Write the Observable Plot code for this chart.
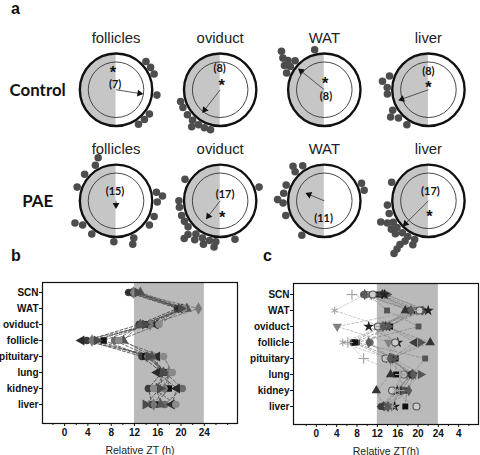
<!DOCTYPE html>
<html><head><meta charset="utf-8">
<script src="https://cdn.jsdelivr.net/npm/d3@7"></script>
<script src="https://cdn.jsdelivr.net/npm/@observablehq/plot@0.6"></script>
<style>
html,body{margin:0;padding:0;background:#fff;overflow:hidden;}
#fig{position:relative;width:480px;height:455px;overflow:hidden;background:#fff;}
.abs{position:absolute;left:0;top:0;}
.lbl{position:absolute;font-family:"Liberation Sans",Arial,sans-serif;font-weight:bold;color:#111;line-height:normal;font-size:16px;}
svg{overflow:visible;}
</style></head><body>
<div id="fig">
  <div id="pa" class="abs"></div>
  <div id="pb" class="abs" style="top:270px"></div>
  <div id="pc" class="abs" style="left:240px;top:270px"></div>
  <div class="lbl" style="left:11px;top:0px">a</div>
  <div class="lbl" style="left:11px;top:247px">b</div>
  <div class="lbl" style="left:263px;top:247px">c</div>
</div>
<script>
// ---------------- DATA: panel a (circular phase plots, ZT hours) ----------------
const tissuesA = ["follicles", "oviduct", "WAT", "liver"];
const groupsA = ["Control", "PAE"];

const ctrlFollicles = [3.1, 3.8, 4.5, 6.5, 8.4, 9.1, 9.8];
const ctrlOviduct   = [12.9, 13.5, 14.1, 14.5, 14.8, 15.5, 16.3, 16.9];
const ctrlWAT       = [19.6, 20.1, 20.3, 20.5, 20.6, 20.8, 21.0, 23.1];
const ctrlLiver     = [14.1, 15.1, 15.6, 16.0, 17.6, 18.2, 18.7, 19.3];

const paeFollicles = [5.2, 5.6, 6.1, 7.5, 8.4, 10.3, 10.6, 12.2, 14.4, 15.6, 16.1, 19.3, 20.7, 22.0, 22.5];
const paeOviduct   = [4.7, 10.6, 12.4, 12.5, 13.0, 13.4, 13.7, 14.2, 14.4, 14.9, 14.9, 15.4, 16.0, 16.6, 17.4, 18.0, 20.1];
const paeWAT       = [4.3, 5.0, 14.2, 16.6, 17.8, 18.1, 18.7, 19.5, 21.0, 21.2, 21.9];
const paeLiver     = [13.3, 13.3, 14.0, 14.0, 14.2, 14.2, 14.2, 14.6, 15.0, 15.3, 15.5, 15.9, 16.1, 16.4, 16.8, 17.6, 19.8];

const ctrlN = [7, 8, 8, 8];
const paeN  = [15, 17, 11, 17];
const ctrlMeanPhase = [6.6, 14.5, 20.6, 16.7];
const paeMeanPhase  = [12.0, 14.5, 19.5, 15.0];
const ctrlVectorLength = [0.71, 0.76, 0.88, 0.83];
const paeVectorLength  = [0.17, 0.59, 0.51, 0.95];
const ctrlSignificant = [true, true, true, true];
const paeSignificant  = [false, true, false, true];

// ---------------- DATA: panels b and c (relative ZT of peak per tissue, one array per animal) ----------------
const tissuesBC = ["SCN", "WAT", "oviduct", "follicle", "pituitary", "lung", "kidney", "liver"];
const bTicks = [0, 4, 8, 12, 16, 20, 24];
const cTicks = [0, 4, 8, 12, 16, 20, 24, 28];
const darkPhase = [12, 24];

const b1 = [11.0, 19.4, 12.8, 3.8, 13.3, 16.7, 14.4, 15.0];
const b2 = [11.5, 20.2, 13.4, 8.6, 14.7, 17.3, 20.2, 17.2];
const b3 = [12.0, 20.6, 14.2, 6.7, 13.9, 17.6, 17.9, 15.6];
const b4 = [11.3, 19.8, 15.6, 2.9, 15.9, 15.9, 19.3, 18.4];
const b5 = [11.8, 23.0, 14.7, 4.7, 14.2, 17.9, 17.2, 15.3];
const b6 = [13.0, 21.0, 13.0, 10.1, 15.0, 17.0, 15.8, 16.5];
const b7 = [12.2, 20.4, 16.2, 9.3, 17.0, 18.5, 15.3, 19.1];
const b8 = [12.5, 20.0, 13.8, 5.5, 14.4, 16.9, 16.4, 13.9];

const c1  = [9.3, 18.3, 12.7, 7.2, 14.2, 18.6, 15.6, 12.7];
const c2  = [9.8, 18.9, 13.3, 10.6, 14.9, 19.1, 16.6, 13.6];
const c3  = [10.2, 13.9, 20.1, 8.0, 21.4, 18.8, 16.8, 14.5];
const c4  = [12.3, 19.2, 14.5, 7.6, 15.6, 15.7, 17.8, 17.5];
const c5  = [13.0, 17.5, 13.6, 22.4, 14.6, 14.6, 11.8, 13.2];
const c6  = [10.8, 19.8, 4.1, 14.2, 15.0, 17.9, 15.1, 14.0];
const c7  = [12.6, 20.5, 14.0, 19.3, 14.8, 18.3, 16.2, 12.9];
const c8  = [13.9, 21.2, 14.2, 20.5, 15.3, 20.5, 17.2, 13.8];
const c9  = [13.4, 22.0, 10.3, 16.0, 14.4, 18.9, 15.9, 15.4];
const c10 = [11.1, 20.3, 12.1, 15.5, 13.6, 17.2, 14.9, 19.7];
const c11 = [9.6, 3.6, 12.9, 5.2, 14.0, 17.0, 15.6, 15.0];
const c12 = [7.0, 19.0, 12.8, 6.2, 9.3, 16.5, 16.3, 14.3];
const c13 = [9.5, 18.6, 13.1, 10.3, 14.5, 19.0, 18.2, 14.1];

// ---------------- STYLES / LAYOUT ----------------
const bSeries = [b1, b2, b3, b4, b5, b6, b7, b8];
const bStyles = [
  {symbol: "circle", fill: "#3c3c3c", rotate: 0},
  {symbol: "circle", fill: "#6a6a6a", rotate: 0},
  {symbol: "square", fill: "#111111", rotate: 0},
  {symbol: "triangle", fill: "#2a2a2a", rotate: -90},
  {symbol: "diamond", fill: "#777777", rotate: 0},
  {symbol: "triangle", fill: "#555555", rotate: 0},
  {symbol: "circle", fill: "#8a8a8a", rotate: 0},
  {symbol: "triangle", fill: "#4a4a4a", rotate: 90}
];
const cSeries = [c1, c2, c3, c4, c5, c6, c7, c8, c9, c10, c11, c12, c13];
const cStyles = [
  {symbol: "circle", fill: "#4a4a4a", rotate: 0},
  {symbol: "circle", fill: "#6a6a6a", rotate: 0},
  {symbol: "square", fill: "#555555", rotate: 0},
  {symbol: "square", fill: "#111111", rotate: 0},
  {symbol: "triangle", fill: "#333333", rotate: 0},
  {symbol: "triangle", fill: "#808080", rotate: 180},
  {symbol: "triangle", fill: "#3a3a3a", rotate: -90},
  {symbol: "triangle", fill: "#555555", rotate: 90},
  {symbol: "star", fill: "#222222", rotate: 0},
  {symbol: "circle", fill: "#cccccc", stroke: "#555555", rotate: 0},
  {symbol: "asterisk", fill: "none", stroke: "#a0a0a0", rotate: 0},
  {symbol: "plus", fill: "none", stroke: "#a0a0a0", rotate: 0},
  {symbol: "diamond", fill: "#5a5a5a", rotate: 0}
];

const R_OUT = 36.5, R_IN = 28, DOT_R = 3.8;
const FACET_W = 105, FACET_H = 112.5;
const TITLE_Y = 52;
const nLabelOffset = {
  Control: [[-1, 5], [-0.5, 21.5], [1.7, -6.5], [0, 18]],
  PAE: [[-1, 9], [5, 6], [-0.7, -17.7], [2, 9]]
};
const starOffset = {
  Control: [[-3, 21], [1.5, 8.5], [1, 10], [0, 6]],
  PAE: [null, [2, -13], null, [1, -12]]
};

// ---------------- PANEL a ----------------
const phasesA = {Control: [ctrlFollicles, ctrlOviduct, ctrlWAT, ctrlLiver], PAE: [paeFollicles, paeOviduct, paeWAT, paeLiver]};
const nA = {Control: ctrlN, PAE: paeN};
const meanA = {Control: ctrlMeanPhase, PAE: paeMeanPhase};
const lenA = {Control: ctrlVectorLength, PAE: paeVectorLength};
const sigA = {Control: ctrlSignificant, PAE: paeSignificant};

function toXY(phase, rad) {
  const t = phase / 24 * 2 * Math.PI;
  return [rad * Math.sin(t), rad * Math.cos(t)];
}
const ringRad = l => R_OUT + 1.3 + DOT_R + l * DOT_R * 1.45;

const dotRows = [], vecRows = [], nRows = [], starRows = [], titleRows = [];
groupsA.forEach(g => tissuesA.forEach((t, i) => {
  const placed = [];
  phasesA[g][i].slice().sort((a, b) => a - b).forEach(p => {
    let level = 0;
    const clash = l => placed.some(q => {
      if (q.level !== l) return false;
      const [x1, y1] = toXY(q.phase, ringRad(l));
      const [x2, y2] = toXY(p, ringRad(l));
      return Math.hypot(x1 - x2, y1 - y2) < DOT_R * 1.55;
    });
    while (clash(level)) level++;
    placed.push({phase: p, level});
    const [x, y] = toXY(p, ringRad(level));
    dotRows.push({group: g, tissue: t, x, y});
  });
  const ph = meanA[g][i], L = lenA[g][i] * R_OUT;
  const [x2, y2] = toXY(ph, L - 3);
  const [hx, hy] = toXY(ph, L - 2);
  vecRows.push({group: g, tissue: t, x1: 0, y1: 0, x2, y2, hx, hy, rot: ph / 24 * 360});
  const no = nLabelOffset[g][i];
  nRows.push({group: g, tissue: t, x: no[0], y: no[1], label: `(${nA[g][i]})`});
  if (sigA[g][i]) {
    const so = starOffset[g][i];
    starRows.push({group: g, tissue: t, x: so[0], y: so[1]});
  }
  titleRows.push({group: g, tissue: t});
}));

const halfDisk = d3.range(-R_OUT, R_OUT + 0.001, R_OUT / 80).map(y => ({y, x1: -Math.sqrt(Math.max(0, R_OUT * R_OUT - y * y))}));
const origin = [{x: 0, y: 0}];

const plotA = Plot.plot({
  width: 484, height: 259,
  marginLeft: 64, marginRight: 0, marginTop: 33.75, marginBottom: 0,
  style: {background: "transparent", overflow: "visible"},
  fx: {domain: tissuesA, padding: 0, axis: null},
  fy: {domain: groupsA, padding: 0, axis: null},
  x: {domain: [-FACET_W / 2, FACET_W / 2], axis: null},
  y: {domain: [-FACET_H / 2, FACET_H / 2], axis: null},
  marks: [
    Plot.areaX(halfDisk, {y: "y", x1: "x1", x2: 0, fill: "#c6c6c6", curve: "linear"}),
    Plot.dot(origin, {x: "x", y: "y", r: R_IN, stroke: "#333", strokeWidth: 0.9, fill: "none"}),
    Plot.dot(origin, {x: "x", y: "y", r: R_OUT, stroke: "#111", strokeWidth: 2.4, fill: "none"}),
    Plot.dot(dotRows, {fx: "tissue", fy: "group", x: "x", y: "y", r: DOT_R, fill: "#4d4d4d"}),
    Plot.link(vecRows, {fx: "tissue", fy: "group", x1: "x1", y1: "y1", x2: "x2", y2: "y2", stroke: "#444", strokeWidth: 0.9}),
    Plot.dot(vecRows, {fx: "tissue", fy: "group", x: "hx", y: "hy", symbol: "triangle", r: 2.6, fill: "#111", rotate: "rot"}),
    Plot.text(nRows, {fx: "tissue", fy: "group", x: "x", y: "y", text: "label", fontFamily: "Lato, 'Open Sans', sans-serif", fontWeight: "bold", fontSize: 11, fill: "#111"}),
    Plot.text(starRows, {fx: "tissue", fy: "group", x: "x", y: "y", text: () => "*", fontFamily: "'Liberation Sans', Arial, sans-serif", fontWeight: "bold", fontSize: 16.5, dy: 4.2, fill: "#111"}),
    Plot.text(titleRows, {fx: "tissue", fy: "group", x: () => 0, y: () => TITLE_Y, text: "tissue", fontFamily: "'Liberation Sans', Arial, sans-serif", fontSize: 15, fill: "#222"}),
    Plot.text(groupsA.map(g => ({group: g, tissue: "follicles"})), {fx: "tissue", fy: "group", x: () => -79, y: () => -1, text: "group", fontFamily: "Lato, 'Open Sans', sans-serif", fontWeight: "bold", fontSize: 17, fill: "#111"})
  ]
});
document.getElementById("pa").appendChild(plotA);

// ---------------- PANELS b, c ----------------
function phasePanel({series, styles, lineStroke, lineWidth, dash, domain, ticks, minorTicks, tickFormat, xLabel, margins, insetTop, insetBottom, dotR}) {
  const marks = [
    Plot.rect([darkPhase], {x1: d => d[0], x2: d => d[1], fill: "#bababa"})
  ];
  series.forEach((vals, i) => {
    const rows = vals.map((zt, j) => ({tissue: tissuesBC[j], zt}));
    marks.push(Plot.line(rows, {x: "zt", y: "tissue", stroke: lineStroke[i % lineStroke.length], strokeWidth: lineWidth, strokeDasharray: dash, curve: "linear"}));
  });
  series.forEach((vals, i) => {
    const rows = vals.map((zt, j) => ({tissue: tissuesBC[j], zt}));
    const st = styles[i];
    marks.push(Plot.dot(rows, {x: "zt", y: "tissue", symbol: st.symbol, r: st.symbol === "square" ? dotR * 0.95 : dotR, fill: st.fill, stroke: st.stroke || "none", strokeWidth: st.stroke ? 1.1 : 0, rotate: st.rotate}));
  });
  marks.push(Plot.frame({stroke: "#111", strokeWidth: 1.2}));
  marks.push(Plot.axisX({ticks, tickFormat, tickSize: 3, tickPadding: 2, label: null, fontSize: 10, fontWeight: "bold"}));
  marks.push(Plot.axisX({ticks: minorTicks, tickFormat: () => "", tickSize: 2, label: null}));
  marks.push(Plot.axisY({tickSize: 3, tickPadding: 1, label: null, fontSize: 10, fontWeight: "bold"}));
  marks.push(Plot.text([xLabel], {frameAnchor: "bottom", text: d => d, dy: 30, fontSize: 10.5, fontWeight: "normal", fill: "#222"}));
  return Plot.plot({
    width: 240, height: 185,
    marginLeft: margins[0], marginRight: margins[1], marginTop: margins[2], marginBottom: margins[3],
    style: {fontFamily: "'Liberation Sans', Arial, sans-serif", fontSize: "10px", fontWeight: "bold", background: "transparent", color: "#111", overflow: "visible"},
    x: {domain, label: null},
    y: {type: "point", domain: tissuesBC, padding: 0, insetTop, insetBottom, label: null},
    marks
  });
}

const plotB = phasePanel({
  series: bSeries, styles: bStyles,
  lineStroke: ["#3a3a3a", "#555", "#444", "#4a4a4a", "#666", "#505050", "#5a5a5a", "#444"],
  lineWidth: 0.8, dash: "3,2",
  domain: [-3.8, 29.7], ticks: bTicks, minorTicks: [-2, 2, 6, 10, 14, 18, 22, 26, 28],
  tickFormat: d => d, xLabel: "Relative ZT (h)",
  margins: [42, 3, 12, 32], insetTop: 8, insetBottom: 17, dotR: 3.8
});
document.getElementById("pb").appendChild(plotB);

const plotC = phasePanel({
  series: cSeries, styles: cStyles,
  lineStroke: ["#777", "#888", "#7a7a7a", "#666", "#808080", "#999", "#707070", "#8a8a8a", "#777", "#909090", "#aaa", "#aaa", "#858585"],
  lineWidth: 0.6, dash: "2.5,2",
  domain: [-4.5, 31.9], ticks: cTicks, minorTicks: [-2, 2, 6, 10, 14, 18, 22, 26, 30],
  tickFormat: d => (d > 24 ? d - 24 : d), xLabel: "Relative ZT(h)",
  margins: [53, 2, 13, 31], insetTop: 9, insetBottom: 16, dotR: 3.5
});
document.getElementById("pc").appendChild(plotC);
</script>
</body></html>
